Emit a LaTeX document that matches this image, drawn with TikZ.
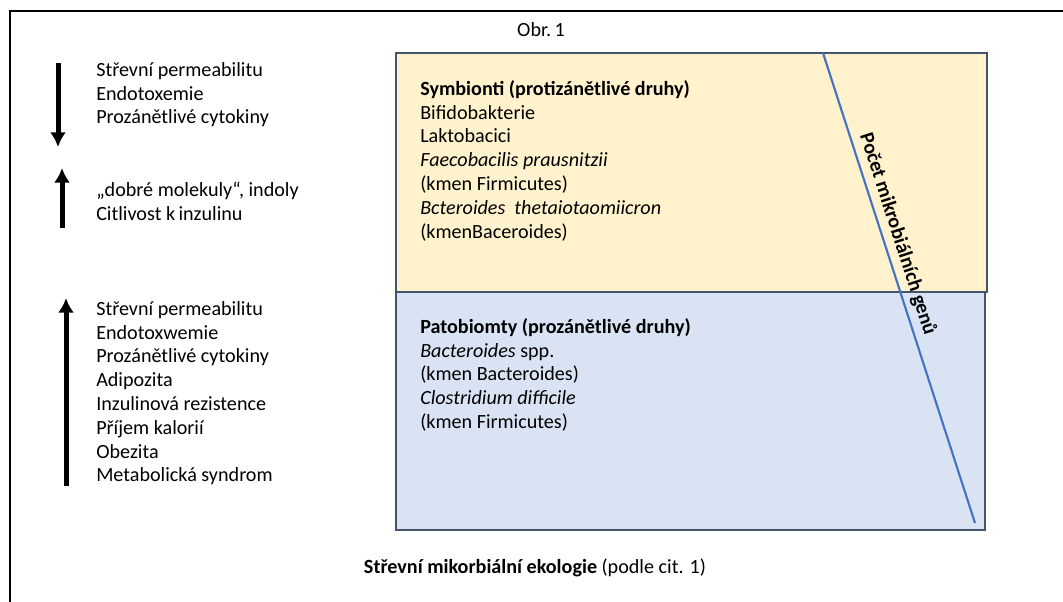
\documentclass[tikz,border=0pt]{standalone}
\usepackage{fontspec}
\setmainfont{Carlito}
\usetikzlibrary{arrows.meta}
\tikzset{>={Latex[length=11pt,width=12pt]}}
\definecolor{symbiont}{HTML}{FFF2CC}
\definecolor{patobiont}{HTML}{DAE3F3}
\definecolor{okraj}{HTML}{44546A}
\definecolor{geny}{HTML}{4472C4}
\tikzstyle{sipka}=[->,line width=3.75pt,black]
\tikzstyle{seznam}=[anchor=north west,inner sep=0pt,align=left,font=\fontsize{15.1}{17.85}\selectfont]
\tikzstyle{popis}=[anchor=base,inner sep=0pt,font=\fontsize{15.1}{17.85}\selectfont]
\tikzstyle{pole}=[draw=okraj,line width=0.8pt]
\begin{document}
\begin{tikzpicture}[x=0.75pt,y=-0.75pt]
  \useasboundingbox (0,0) rectangle (1063,601);
  \def\L{96}  % left lists
  \def\B{420} % box texts

  % FRAME
  \draw[line width=2pt] (10,610) -- (10,11) -- (1070,11);
  \node[popis] (obr) at (541,36) {Obr.\,1};

  % BOXES
  \fill[symbiont,pole] (396,53) rectangle (987,292);
  \fill[patobiont,pole] (396,292) rectangle (985,530);
  \node[seznam] (symb) at (\B,78.3) {\strut\textbf{Symbionti (protizánětlivé druhy)}\\
    Bifidobakterie\\
    Laktobacici\\
    \textit{Faecobacilis prausnitzii}\\
    (kmen Firmicutes)\\
    \textit{Bcteroides\ \ thetaiotaomiicron}\\
    (kmenBaceroides)};
  \node[seznam] (pato) at (\B,316.3) {\strut\textbf{Patobiomty (prozánětlivé druhy)}\\
    \textit{Bacteroides} spp.\\
    (kmen Bacteroides)\\
    \textit{Clostridium difficile}\\
    (kmen Firmicutes)};

  % GENES
  \coordinate (G1) at (823,53);
  \coordinate (G2) at (975,523);
  \draw[geny,line width=1.6pt] (G1) -- node[sloped,above,pos=.395,inner sep=4pt,
    font=\fontsize{15.1}{17.85}\selectfont\bfseries,text=black] (pocet) {Počet mikrobiálních genů} (G2);

  % LISTS
  \coordinate (A1) at (58,63);   \coordinate (A1e) at (58,147);
  \coordinate (A2) at (62,228);  \coordinate (A2e) at (62,168);
  \coordinate (A3) at (66,486);  \coordinate (A3e) at (66,298);
  \draw[sipka] (A1) -- (A1e);
  \draw[sipka] (A2) -- (A2e);
  \draw[sipka] (A3) -- (A3e);
  \node[seznam] (dolu) at (\L,59.3) {\strut Střevní permeabilitu\\
    Endotoxemie\\
    Prozánětlivé cytokiny};
  \node[seznam] (dobre) at (\L,179.3) {\strut„dobré molekuly“, indoly\\
    Citlivost k\,inzulinu};
  \node[seznam] (nahoru) at (\L,298.3) {\strut Střevní permeabilitu\\
    Endotoxwemie\\
    Prozánětlivé cytokiny\\
    Adipozita\\
    Inzulinová rezistence\\
    Příjem kalorií\\
    Obezita\\
    Metabolická syndrom};

  % CAPTION
  \node[popis] (ekologie) at (535,573) {\textbf{Střevní mikorbiální ekologie} (podle cit. 1)};
\end{tikzpicture}
\end{document}
